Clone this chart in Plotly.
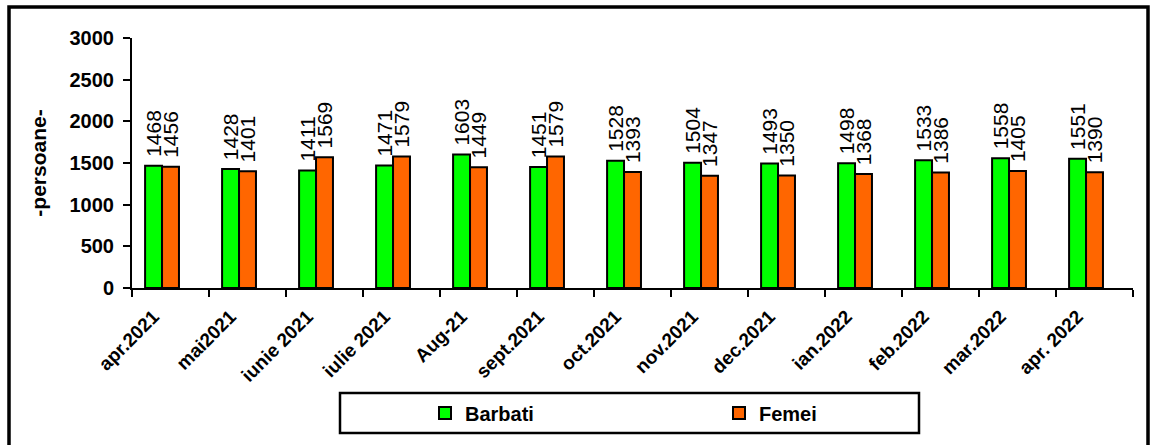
import plotly.graph_objects as go

categories = ["apr.2021", "mai2021", "iunie 2021", "iulie 2021", "Aug-21", "sept.2021",
              "oct.2021", "nov.2021", "dec.2021", "ian.2022", "feb.2022", "mar.2022", "apr. 2022"]
barbati = [1468, 1428, 1411, 1471, 1603, 1451, 1528, 1504, 1493, 1498, 1533, 1558, 1551]
femei = [1456, 1401, 1569, 1579, 1449, 1579, 1393, 1347, 1350, 1368, 1386, 1405, 1390]
y_ticks = [0, 500, 1000, 1500, 2000, 2500, 3000]

FONT = "Liberation Sans, Arial, sans-serif"
xs = list(range(len(categories)))

fig = go.Figure()
fig.add_trace(go.Bar(
    x=xs, y=barbati, name="<b>Barbati</b>", legend="legend",
    marker=dict(color="#00FF00", line=dict(color="black", width=2)),
    width=0.22, offset=-0.33,
    text=["\u00a0" + str(v) for v in barbati], textposition="outside", textangle=-90,
    constraintext="none", cliponaxis=False,
    textfont=dict(family=FONT, size=21, color="black"),
))
fig.add_trace(go.Bar(
    x=xs, y=femei, name="<b>Femei</b>", legend="legend2",
    marker=dict(color="#FF6600", line=dict(color="black", width=2)),
    width=0.22, offset=-0.11,
    text=["\u00a0" + str(v) for v in femei], textposition="outside", textangle=-90,
    constraintext="none", cliponaxis=False,
    textfont=dict(family=FONT, size=21, color="black"),
))

fig.update_layout(
    width=1152, height=445,
    margin=dict(l=132, r=19, t=38, b=157),
    paper_bgcolor="white", plot_bgcolor="white",
    barmode="group",
    font=dict(family=FONT, color="black"),
    xaxis=dict(
        range=[-0.5, len(categories) - 0.5],
        tickmode="array",
        tickvals=[x - 0.22 for x in xs],
        ticktext=["<b>%s</b>" % c for c in categories],
        tickangle=-45, ticks="", tickfont=dict(size=19),
        ticklabelstandoff=8,
        showline=True, linecolor="black", linewidth=2,
        showgrid=False, zeroline=False,
        minor=dict(tick0=-0.5, dtick=1, ticks="outside", ticklen=7,
                   tickwidth=2, tickcolor="black", showgrid=False),
    ),
    yaxis=dict(
        range=[0, 3000], tickmode="array", tickvals=y_ticks,
        ticktext=["<b>%d</b>" % v for v in y_ticks],
        tickfont=dict(size=20), ticklabelstandoff=5,
        ticks="outside", ticklen=7, tickwidth=2, tickcolor="black",
        showline=True, linecolor="black", linewidth=2,
        showgrid=False, zeroline=False,
        title=dict(text="<b>-persoane-</b>", font=dict(size=21), standoff=17),
    ),
    legend=dict(orientation="h", x=(425 - 132) / 1001, xanchor="left", y=-0.5, yanchor="middle",
                font=dict(size=20), bgcolor="rgba(0,0,0,0)", borderwidth=0),
    legend2=dict(orientation="h", x=(719 - 132) / 1001, xanchor="left", y=-0.5, yanchor="middle",
                 font=dict(size=20), bgcolor="rgba(0,0,0,0)", borderwidth=0),
    showlegend=True,
)

# legend frame
fig.add_shape(type="rect", xref="paper", yref="paper",
              x0=(340 - 132) / 1001, x1=(919 - 132) / 1001,
              y0=(288 - 433) / 250, y1=(288 - 393) / 250,
              line=dict(color="black", width=2.5), fillcolor="rgba(0,0,0,0)", layer="below")
# outer chart frame
fig.add_shape(type="rect", xref="paper", yref="paper",
              x0=(9 - 132) / 1001, x1=(1148 - 132) / 1001,
              y0=(288 - 460) / 250, y1=(288 - 7) / 250,
              line=dict(color="black", width=3.5), fillcolor="rgba(0,0,0,0)", layer="below")

fig.write_html("out.html", config={"displayModeBar": False},
               post_script="document.body.style.margin='0';document.body.style.overflow='hidden';")
